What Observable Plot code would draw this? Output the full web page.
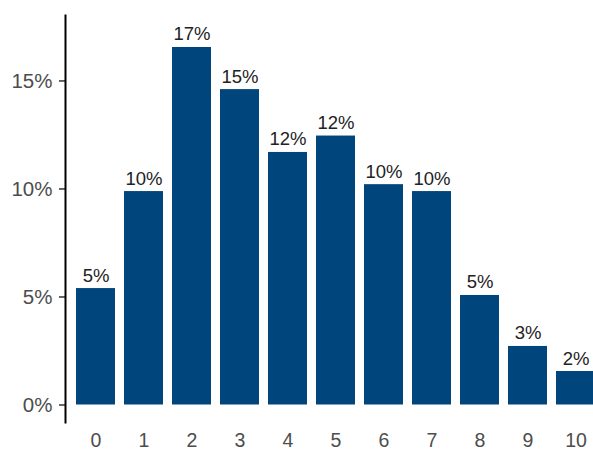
<!DOCTYPE html>
<html>
<head>
<meta charset="utf-8">
<script src="https://cdn.jsdelivr.net/npm/d3@7"></script>
<script src="https://cdn.jsdelivr.net/npm/@observablehq/plot@0.6"></script>
<style>
  html, body { margin: 0; padding: 0; background: #fff; overflow: hidden; }
  #chart svg { display: block; overflow: hidden; }
</style>
</head>
<body>
<div id="chart"></div>
<script>
const categories = ["0", "1", "2", "3", "4", "5", "6", "7", "8", "9", "10"];
const shares = [0.0539, 0.0988, 0.1655, 0.146, 0.1169, 0.1245, 0.102, 0.0988, 0.0507, 0.0271, 0.0155];
const yTicks = [0, 0.05, 0.10, 0.15];

const data = categories.map((c, i) => ({cat: c, value: shares[i]}));
const pct = d3.format(".0%");

const plot = Plot.plot({
  width: 593,
  height: 452,
  marginLeft: 65,
  marginRight: 0,
  marginTop: 15,
  marginBottom: 30,
  style: {fontFamily: "'Liberation Sans', Arial, sans-serif", background: "#fff"},
  x: {domain: categories, range: [65.6, 605], paddingInner: 0.19, paddingOuter: 0.19, axis: null},
  y: {domain: [-0.0081, 0.1803], axis: null},
  marks: [
    Plot.barY(data, {x: "cat", y: "value", fill: "#00457C"}),
    Plot.text(data, {
      x: "cat", y: "value", text: d => pct(d.value),
      dy: -7, lineAnchor: "bottom", fontSize: 18.5, fill: "#222"
    }),
    Plot.axisY({
      ticks: yTicks, tickFormat: pct, tickSize: 6, tickPadding: 7,
      fontSize: 20.5, color: "#4D4D4D", stroke: "#333", strokeWidth: 1.5, label: null
    }),
    Plot.axisX({
      tickSize: 0, tickPadding: 11, fontSize: 19.5, color: "#4D4D4D", label: null
    }),
    Plot.frame({anchor: "left", stroke: "#000", strokeWidth: 2})
  ]
});
document.getElementById("chart").appendChild(plot);
</script>
</body>
</html>
